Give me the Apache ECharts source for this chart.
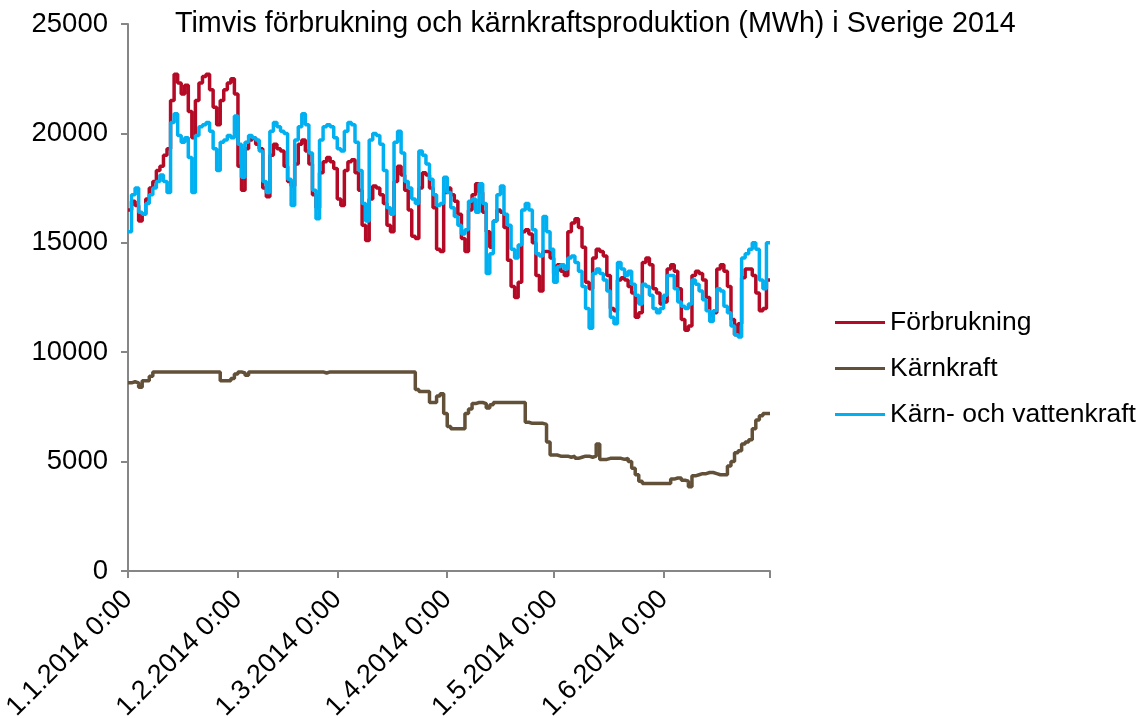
<!DOCTYPE html>
<html>
<head>
<meta charset="utf-8">
<title>Timvis förbrukning och kärnkraftsproduktion</title>
<script src="https://cdn.jsdelivr.net/npm/echarts@6/dist/echarts.min.js"></script>
<style>
  html, body { margin: 0; padding: 0; background: #fff; }
  #chart { width: 1139px; height: 718px; }
</style>
</head>
<body>
<div id="chart"></div>
<script>
// x = day of year 2014 (0 = 1 Jan), one value per day
const tickDays = [0, 31, 59, 90, 120, 151]
const tickLabels = ['1.1.2014 0:00', '1.2.2014 0:00', '1.3.2014 0:00', '1.4.2014 0:00', '1.5.2014 0:00', '1.6.2014 0:00']
const lastDay = 181

const forbrukning = [
  // jan
  16500, 16900, 16700, 16000, 16300, 17000, 17500, 17800, 18300, 18500, 19000, 19300, 21500, 22700, 22300, 21800,
  22200, 21000, 19800, 21500, 22300, 22600, 22700, 22000, 21200, 20400, 21500, 22000, 22300, 22500, 21800,
  // feb
  18500, 17400, 19300, 19700, 19800, 19500, 19300, 17500, 17100, 19000, 19500, 19300, 19200, 18500,
  17800, 17600, 18600, 19500, 19700, 19200, 18600, 17200, 16600, 18200, 18700, 18900, 18700, 18400,
  // mar
  17000, 16700, 18300, 18700, 18800, 18200, 17400, 15800, 15100, 17000, 17600, 17500, 17200, 16800, 15800, 15500,
  17800, 18500, 18100, 17400, 16500, 15300, 15200, 17500, 18200, 18100, 17500, 16600, 14700, 14600, 17300,
  // apr
  17500, 17200, 16900, 16300, 15200, 14600, 16500, 17200, 17700, 17300, 16400, 15500, 14800, 16000, 16500,
  16400, 15700, 14200, 13000, 12500, 13200, 15500, 15600, 15400, 15000, 13500, 12800, 14600, 14600, 14300,
  // maj
  13600, 14000, 13700, 13500, 15500, 15900, 16100, 15700, 14800, 13200, 12900, 14300, 14700, 14600, 14400, 13500,
  12000, 11900, 13300, 13400, 13300, 13000, 12700, 11600, 11800, 14100, 14300, 14000, 12900, 12700, 12200,
  // jun
  12300, 13800, 14000, 13700, 12900, 11500, 11000, 11200, 13500, 13700, 13600, 13300, 12500, 11700, 11800,
  13800, 14000, 13700, 13000, 11500, 10800, 11300, 13400, 13800, 13800, 13500, 12700, 11900, 12000, 13300
]

const karnkraft = [
  // jan
  8600, 8650, 8600, 8400, 8700, 8700, 8900, 9100, 9100, 9100, 9100, 9100, 9100, 9100, 9100, 9100,
  9100, 9100, 9100, 9100, 9100, 9100, 9100, 9100, 9100, 9100, 8700, 8700, 8700, 8800, 9000,
  // feb
  9100, 9050, 8950, 9100, 9100, 9100, 9100, 9100, 9100, 9100, 9100, 9100, 9100, 9100,
  9100, 9100, 9100, 9100, 9100, 9100, 9100, 9100, 9100, 9100, 9050, 9100, 9100, 9100,
  // mar
  9100, 9100, 9100, 9100, 9100, 9100, 9100, 9100, 9100, 9100, 9100, 9100, 9100, 9100, 9100, 9100,
  9100, 9100, 9100, 9100, 9100, 9100, 8300, 8200, 8200, 8200, 7700, 7700, 8000, 8100, 7200,
  // apr
  6600, 6500, 6500, 6500, 6500, 7200, 7400, 7650, 7700, 7700, 7650, 7450, 7600, 7700, 7700,
  7700, 7700, 7700, 7700, 7700, 7700, 7700, 6800, 6750, 6750, 6750, 6750, 6700, 5900, 5300,
  // maj
  5300, 5250, 5250, 5250, 5200, 5250, 5150, 5200, 5250, 5250, 5200, 5250, 5800, 5100, 5100, 5150,
  5150, 5150, 5150, 5100, 5150, 5000, 4700, 4400, 4100, 4000, 4000, 4000, 4000, 4000, 4000,
  // jun
  4000, 4000, 4200, 4250, 4250, 4150, 4100, 3850, 4350, 4400, 4450, 4450, 4500, 4500, 4450,
  4400, 4400, 4400, 4800, 5000, 5400, 5500, 5800, 5900, 6000, 6500, 6900, 7100, 7200, 7200
]

const karnVatten = [
  // jan
  15500, 17200, 17500, 16400, 16300, 16800, 17200, 17500, 17800, 18100, 17800, 17300, 20500, 20900, 19900, 19600,
  19800, 18900, 17300, 19900, 20300, 20400, 20500, 20100, 19300, 18300, 19600, 19700, 19900, 19800, 20800,
  // feb
  19500, 18000, 19600, 19900, 19800, 19700, 19200, 17800, 17300, 20100, 20500, 20300, 20100, 20000,
  17900, 16700, 19700, 20300, 20900, 20400, 19100, 17400, 16100, 19700, 20300, 20400, 20300, 19800,
  // mar
  19300, 19200, 20100, 20500, 20400, 19600, 18300, 16800, 16000, 19700, 20000, 19900, 19500, 18300, 16600, 16300,
  19600, 20100, 19100, 17800, 17500, 17000, 16800, 19200, 19000, 18600, 17900, 17200, 16700, 16800, 18000,
  // apr
  17300, 16600, 16200, 15800, 15400, 15600, 16900, 17000, 16400, 17700, 16800, 13600, 14500, 16000, 17200,
  17600, 16300, 15800, 14700, 14300, 14900, 16500, 16800, 16500, 15600, 14500, 14400, 16200, 15500, 14700,
  // maj
  13200, 13900, 14000, 13800, 14300, 14400, 14100, 13700, 13000, 12000, 11100, 13600, 13800, 13600, 13300, 12800,
  11600, 11300, 14100, 13800, 13500, 13700, 13100, 12600, 12200, 13100, 13000, 12600, 12000, 11800, 12000,
  // jun
  12600, 13500, 13500, 12900, 12300, 12100, 12000, 12200, 13300, 13100, 12800, 12400, 11900, 11400, 11900,
  12900, 12800, 12100, 11800, 11200, 10800, 10700, 14300, 14500, 14700, 15000, 14700, 13300, 12900, 15000
]

const font = '"Liberation Sans", Arial, sans-serif'

// each daily value is held until the next day (step 'end'), closing point at lastDay
function toSteps(values) {
    const pts = values.map((v, i) => [i, v])
    pts.push([lastDay, values[values.length - 1]])
    return pts
}

function makeSeries(name, values, color) {
    return {
        name: name,
        type: 'line',
        step: 'end',
        symbol: 'none',
        data: toSteps(values),
        lineStyle: { color: color, width: 3.5 },
        itemStyle: { color: color },
        emphasis: { disabled: true }
    }
}

const axisGray = '#868686'

const myChart = echarts.init(document.getElementById('chart'))
myChart.setOption({
    animation: false,
    backgroundColor: '#fff',
    title: {
        text: 'Timvis förbrukning och kärnkraftsproduktion (MWh) i Sverige 2014',
        left: 170,
        top: 5,
        textStyle: { fontFamily: font, fontSize: 28.7, fontWeight: 'normal', color: '#000' }
    },
    legend: {
        orient: 'vertical',
        left: 830,
        top: 304,
        icon: 'rect',
        itemWidth: 50,
        itemHeight: 3,
        itemGap: 19,
        textStyle: { fontFamily: font, fontSize: 26.5, color: '#000' },
        data: ['Förbrukning', 'Kärnkraft', 'Kärn- och vattenkraft']
    },
    // keep the plot area fixed, the rotated labels may run off the bottom edge
    grid: { left: 128, right: 369, top: 24, bottom: 147, outerBoundsMode: 'none' },
    xAxis: {
        type: 'value',
        min: 0,
        max: lastDay,
        splitLine: { show: false },
        axisLine: { lineStyle: { color: axisGray, width: 2 } },
        axisTick: {
            show: true,
            length: 7,
            customValues: tickDays.concat([lastDay]),
            lineStyle: { color: axisGray, width: 2 }
        },
        axisLabel: {
            customValues: tickDays,
            rotate: 45,
            margin: 24,
            fontFamily: font,
            fontSize: 27,
            color: '#000',
            formatter: v => tickLabels[tickDays.indexOf(v)]
        }
    },
    yAxis: {
        type: 'value',
        min: 0,
        max: 25000,
        interval: 5000,
        splitLine: { show: false },
        axisLine: { show: true, lineStyle: { color: axisGray, width: 2 } },
        axisTick: { show: true, length: 7, lineStyle: { color: axisGray, width: 2 } },
        axisLabel: {
            margin: 20,
            fontFamily: font,
            fontSize: 27.5,
            color: '#000',
            formatter: v => String(v)
        }
    },
    series: [
        makeSeries('Förbrukning', forbrukning, '#B40A26'),
        makeSeries('Kärnkraft', karnkraft, '#625038'),
        makeSeries('Kärn- och vattenkraft', karnVatten, '#00B0F0')
    ]
})
</script>
</body>
</html>
